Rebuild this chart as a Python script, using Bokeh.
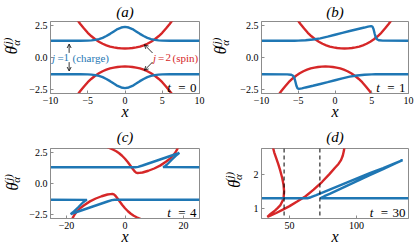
import math
from bokeh.plotting import figure
from bokeh.layouts import row, column
from bokeh.models import Label, Arrow, OpenHead, Span, FixedTicker, Range1d
from bokeh.core.properties import value
from bokeh.embed import file_html
from bokeh.resources import INLINE

BLUE = "#1f77b4"
RED = "#d62728"
SERIF = "Liberation Serif"

# ---------------- data ----------------
# panel (a), t = 0
a_blue_top_x = [-10, -6, -5, -4.5, -4, -3.5, -3, -2.5, -2, -1.5, -1, -0.5, 0, 0.5, 1, 1.5, 2, 2.5, 3, 3.5, 4, 4.5, 5, 6, 10]
a_blue_top_y = [1.3, 1.3, 1.31, 1.33, 1.37, 1.43, 1.53, 1.67, 1.84, 2.03, 2.21, 2.33, 2.38, 2.33, 2.21, 2.03, 1.84, 1.67, 1.53, 1.43, 1.37, 1.33, 1.31, 1.3, 1.3]
a_blue_bot_x = [-10, -6, -5, -4.5, -4, -3.5, -3, -2.5, -2, -1.5, -1, -0.5, 0, 0.5, 1, 1.5, 2, 2.5, 3, 3.5, 4, 4.5, 5, 6, 10]
a_blue_bot_y = [-1.3, -1.3, -1.31, -1.33, -1.37, -1.43, -1.53, -1.67, -1.84, -2.03, -2.21, -2.33, -2.38, -2.33, -2.21, -2.03, -1.84, -1.67, -1.53, -1.43, -1.37, -1.33, -1.31, -1.3, -1.3]
a_red_top_x = [-7, -6.5, -6, -5.5, -5, -4.5, -4, -3.5, -3, -2.5, -2, -1.5, -1, -0.5, 0, 0.5, 1, 1.5, 2, 2.5, 3, 3.5, 4, 4.5, 5, 5.5, 6, 6.5, 7]
a_red_top_y = [3.4, 3.0, 2.6, 2.25, 1.92, 1.65, 1.42, 1.23, 1.07, 0.95, 0.85, 0.79, 0.74, 0.71, 0.7, 0.71, 0.74, 0.79, 0.85, 0.95, 1.07, 1.23, 1.42, 1.65, 1.92, 2.25, 2.6, 3.0, 3.4]
a_red_bot_x = [-7, -6.5, -6, -5.5, -5, -4.5, -4, -3.5, -3, -2.5, -2, -1.5, -1, -0.5, 0, 0.5, 1, 1.5, 2, 2.5, 3, 3.5, 4, 4.5, 5, 5.5, 6, 6.5, 7]
a_red_bot_y = [-3.4, -3.0, -2.6, -2.25, -1.92, -1.65, -1.42, -1.23, -1.07, -0.95, -0.85, -0.79, -0.74, -0.71, -0.7, -0.71, -0.74, -0.79, -0.85, -0.95, -1.07, -1.23, -1.42, -1.65, -1.92, -2.25, -2.6, -3.0, -3.4]

# panel (b), t = 1
b_blue_top_x = [-10, -5.5, -5, -4, -3, -2, -1, 0, 1, 2, 3, 4, 4.5, 4.9, 5.1, 5.25, 5.4, 5.55, 5.75, 6.0, 6.5, 10]
b_blue_top_y = [1.3, 1.3, 1.31, 1.34, 1.4, 1.49, 1.62, 1.77, 1.92, 2.06, 2.2, 2.33, 2.4, 2.44, 2.4, 2.2, 1.85, 1.55, 1.4, 1.34, 1.31, 1.3]
b_blue_bot_x = [-10, -6.5, -6.0, -5.75, -5.55, -5.4, -5.25, -5.1, -4.9, -4.5, -4, -3, -2, -1, 0, 1, 2, 3, 4, 5, 5.5, 10]
b_blue_bot_y = [-1.3, -1.31, -1.34, -1.4, -1.55, -1.85, -2.2, -2.4, -2.44, -2.4, -2.33, -2.2, -2.06, -1.92, -1.77, -1.62, -1.49, -1.4, -1.34, -1.31, -1.3, -1.3]
b_red_top_x = [-5.7, -5.2, -4.7, -4.2, -3.7, -3.2, -2.7, -2.2, -1.7, -1.2, -0.7, -0.2, 0.3, 0.8, 1.3, 1.8, 2.3, 2.8, 3.3, 3.8, 4.3, 4.8, 5.3, 5.8, 6.3, 6.8, 7.3, 7.8, 8.3]
b_red_top_y = [3.4, 3.0, 2.6, 2.25, 1.92, 1.65, 1.42, 1.23, 1.07, 0.95, 0.85, 0.79, 0.74, 0.71, 0.7, 0.71, 0.74, 0.79, 0.85, 0.95, 1.07, 1.23, 1.42, 1.65, 1.92, 2.25, 2.6, 3.0, 3.4]
b_red_bot_x = [-8.3, -7.8, -7.3, -6.8, -6.3, -5.8, -5.3, -4.8, -4.3, -3.8, -3.3, -2.8, -2.3, -1.8, -1.3, -0.8, -0.3, 0.2, 0.7, 1.2, 1.7, 2.2, 2.7, 3.2, 3.7, 4.2, 4.7, 5.2, 5.7]
b_red_bot_y = [-3.4, -3.0, -2.6, -2.25, -1.92, -1.65, -1.42, -1.23, -1.07, -0.95, -0.85, -0.79, -0.74, -0.71, -0.7, -0.71, -0.74, -0.79, -0.85, -0.95, -1.07, -1.23, -1.42, -1.65, -1.92, -2.25, -2.6, -3.0, -3.4]

# panel (c), t = 4
c_blue_top_x = [-25.5, 3.5, 4.5, 6, 8, 10, 12, 14, 16, 17.5, 18.3, 18.6, 18.4, 17.8, 17.0, 16.0, 15.0, 14.3, 13.8, 13.4, 13.0, 25.5]
c_blue_top_y = [1.3, 1.3, 1.33, 1.44, 1.6, 1.76, 1.92, 2.08, 2.24, 2.36, 2.43, 2.46, 2.42, 2.3, 2.12, 1.9, 1.66, 1.5, 1.4, 1.34, 1.31, 1.3]
c_blue_bot_x = [-25.5, -13.0, -13.4, -13.8, -14.3, -15.0, -16.0, -17.0, -17.8, -18.4, -18.6, -18.3, -17.5, -16, -14, -12, -10, -8, -6, -4.5, -3.5, 25.5]
c_blue_bot_y = [-1.3, -1.31, -1.34, -1.4, -1.5, -1.66, -1.9, -2.12, -2.3, -2.42, -2.46, -2.43, -2.36, -2.24, -2.08, -1.92, -1.76, -1.6, -1.44, -1.33, -1.3, -1.3]
c_red_top_x = [-6, -5, -4, -3, -2, -1, 0, 1, 2, 2.8, 3.4, 3.8, 4.3, 5, 6, 8, 10, 12, 14, 15.5, 16.5, 17.3, 17.9, 18.2]
c_red_top_y = [2.9, 2.8, 2.7, 2.58, 2.42, 2.22, 1.98, 1.7, 1.38, 1.12, 0.95, 0.87, 0.84, 0.85, 0.88, 1.02, 1.2, 1.43, 1.74, 2.0, 2.25, 2.5, 2.75, 2.95]
c_red_bot_x = [-18.2, -17.9, -17.3, -16.5, -15.5, -14, -12, -10, -8, -6, -5, -4.3, -3.8, -3.4, -2.8, -2, -1, 0, 1, 2, 3, 4, 5, 6]
c_red_bot_y = [-2.95, -2.75, -2.5, -2.25, -2.0, -1.74, -1.43, -1.2, -1.02, -0.88, -0.85, -0.84, -0.87, -0.95, -1.12, -1.38, -1.7, -1.98, -2.22, -2.42, -2.58, -2.7, -2.8, -2.9]

# panel (d), t = 30
d_blue_x = [29, 63.4, 66, 70, 80, 90, 100, 110, 120, 130, 134.6, 130, 120, 110, 100, 90, 80, 76, 74, 73, 139]
d_blue_y = [1.31, 1.31, 1.34, 1.4, 1.56, 1.72, 1.88, 2.04, 2.19, 2.35, 2.42, 2.34, 2.16, 1.98, 1.8, 1.62, 1.44, 1.37, 1.33, 1.31, 1.31]
d_red_x = [37.2, 38.5, 40, 41.5, 43, 44.5, 45.5, 45.9, 45.6, 44.7, 43, 41, 39, 36, 33.4, 36, 40, 45, 50, 56, 62, 68, 74.4, 80, 84, 86.6, 88.5, 89.8, 90.7, 91.2]
d_red_y = [2.85, 2.65, 2.48, 2.31, 2.12, 1.9, 1.7, 1.51, 1.35, 1.23, 1.1, 1.02, 0.95, 0.86, 0.77, 0.81, 0.88, 0.98, 1.08, 1.22, 1.37, 1.56, 1.79, 2.02, 2.2, 2.31, 2.42, 2.55, 2.7, 2.85]
d_vlines = [45.9, 72.7]

# ticks
ab_xticks = [-10, -5, 0, 5, 10]
c_xticks = [-20, 0, 20]
d_xticks = [50, 100]
abc_yticks = [-2.5, 0.0, 2.5]
d_yticks = [1, 2]

# annotation anchors (panel a)
charge_arrows = [(-7.5, 0.36, -7.5, 1.05), (-7.5, -0.36, -7.5, -1.05)]
spin_arrows = [(3.7, 0.35, 2.6, 1.0), (3.7, -0.35, 2.6, -1.0)]


def minus(s):
    return s.replace("-", "\u2212")


def fint(v):
    return minus("%d" % v)


def f1(v):
    return minus("%.1f" % v)


def lab(p, x, y, text, dx=0, dy=0, size=11, color="black", style="normal",
        align="left", baseline="middle"):
    p.add_layout(Label(x=x, y=y, x_offset=dx, y_offset=dy, text=text,
                       text_font=SERIF, text_font_size=f"{size}px",
                       text_color=color, text_font_style=style,
                       text_align=align, text_baseline=baseline))


def make_fig(title, xr, yr, w, h, bl, br, bt, bb, t_standoff, xt, yt, xfmt, yfmt):
    p = figure(width=w, height=h, x_range=Range1d(*xr), y_range=Range1d(*yr),
               output_backend="svg", toolbar_location=None,
               min_border_left=bl, min_border_right=br,
               min_border_top=bt, min_border_bottom=bb)
    p.grid.visible = False
    p.outline_line_color = "#8c8c8c"
    p.outline_line_width = 1
    p.background_fill_color = "white"
    p.border_fill_color = "white"
    p.title.text = title
    p.title.align = "center"
    p.title.text_font = SERIF
    p.title.text_font_size = "15px"
    p.title.text_font_style = "italic"
    p.title.text_color = "black"
    p.title.standoff = t_standoff
    for ax, ticks, f in ((p.xaxis[0], xt, xfmt), (p.yaxis[0], yt, yfmt)):
        ax.ticker = FixedTicker(ticks=ticks)
        ax.major_label_overrides = {t: f(t) for t in ticks}
        ax.axis_line_color = "#8c8c8c"
        ax.major_tick_line_color = "#8c8c8c"
        ax.major_tick_in = 3
        ax.major_tick_out = 0
        ax.minor_tick_line_color = None
        ax.major_label_standoff = 3
        ax.major_label_text_font = SERIF
        ax.major_label_text_font_size = "10px"
        ax.major_label_text_color = "black"
    xa = p.xaxis[0]
    xa.axis_label = "x"
    xa.axis_label_text_font = SERIF
    xa.axis_label_text_font_size = "16px"
    xa.axis_label_text_font_style = "italic"
    xa.axis_label_text_color = "black"
    xa.axis_label_standoff = -4
    return p


def tlabel(p, xr, yr, tval):
    nw = 6.5 * len(tval)
    lab(p, xr[1], yr[0], tval, dx=-3, dy=6, size=13, align="right", baseline="alphabetic")
    lab(p, xr[1], yr[0], "=", dx=-3 - nw - 8, dy=6, size=13, align="center", baseline="alphabetic")
    lab(p, xr[1], yr[0], "t", dx=-3 - nw - 21, dy=6, size=13, style="italic", align="center", baseline="alphabetic")


def theta_fig(w, h, th, sub, sup):
    """narrow strip that carries the rotated y label theta_alpha^(j) (pixel coords)"""
    p = figure(width=w, height=h, x_range=Range1d(0, w), y_range=Range1d(0, h),
               output_backend="svg", toolbar_location=None,
               x_axis_location=None, y_axis_location=None, min_border=0)
    p.grid.visible = False
    p.xgrid.grid_line_color = None
    p.ygrid.grid_line_color = None
    p.outline_line_color = None
    p.background_fill_color = "white"
    p.border_fill_color = "white"
    ang = math.pi / 2
    p.text(x=[th[0]], y=[th[1]], text=["\u03b8"], angle=ang, text_font=value(SERIF),
           text_font_size="16px", text_font_style="italic", text_align="center",
           text_baseline="middle", text_color="black")
    p.text(x=[sub[0]], y=[sub[1]], text=["\u03b1"], angle=ang, text_font=value(SERIF),
           text_font_size="11px", text_font_style="italic", text_align="center",
           text_baseline="middle", text_color="black")
    p.text(x=[sup[0]], y=[sup[1]], text=["(j)"], angle=ang, text_font=value(SERIF),
           text_font_size="11px", text_font_style="italic", text_align="center",
           text_baseline="middle", text_color="black")
    return p


LW = 2.4
H1, H2 = 122, 125

# ---- panel (a)
xa, ya = (-10, 10), (-2.8, 2.8)
pa = make_fig("(a)", xa, ya, 183, H1, 26, 8, 5, 29, 3, ab_xticks, abc_yticks, fint, f1)
pa.line(a_red_top_x, a_red_top_y, color=RED, line_width=LW)
pa.line(a_red_bot_x, a_red_bot_y, color=RED, line_width=LW)
pa.line(a_blue_top_x, a_blue_top_y, color=BLUE, line_width=LW)
pa.line(a_blue_bot_x, a_blue_bot_y, color=BLUE, line_width=LW)
for (x0, y0, x1, y1) in charge_arrows + spin_arrows:
    pa.add_layout(Arrow(end=OpenHead(size=4, line_width=0.8, line_color="black"),
                        x_start=x0, y_start=y0, x_end=x1, y_end=y1,
                        line_width=0.8, line_color="black"))
lab(pa, xa[0], 0, "j", dx=1.5, size=11, color=BLUE, style="italic")
lab(pa, xa[0], 0, "=", dx=7, size=11, color=BLUE)
lab(pa, xa[0], 0, "1", dx=13, size=11, color=BLUE)
lab(pa, xa[0], 0, "(charge)", dx=22, size=11, color=BLUE)
lab(pa, 0, 0, "j", dx=28, size=11, color=RED, style="italic")
lab(pa, 0, 0, "=", dx=33, size=11, color=RED)
lab(pa, 0, 0, "2", dx=40.5, size=11, color=RED)
lab(pa, 0, 0, "(spin)", dx=47.5, size=11, color=RED)
tlabel(pa, xa, ya, "0")
ta = theta_fig(24, H1, (11, 73), (15, 86), (6, 86))

# ---- panel (b)
xb, yb = (-10, 10), (-2.8, 2.8)
pb = make_fig("(b)", xb, yb, 177, H1, 24, 6, 5, 29, 3, ab_xticks, abc_yticks, fint, f1)
pb.line(b_red_top_x, b_red_top_y, color=RED, line_width=LW)
pb.line(b_red_bot_x, b_red_bot_y, color=RED, line_width=LW)
pb.line(b_blue_top_x, b_blue_top_y, color=BLUE, line_width=LW)
pb.line(b_blue_bot_x, b_blue_bot_y, color=BLUE, line_width=LW)
tlabel(pb, xb, yb, "1")
tb = theta_fig(30, H1, (13, 73), (17, 86), (8, 86))

# ---- panel (c)
xc_, yc_ = (-25.5, 25.5), (-2.8, 2.8)
pc = make_fig("(c)", xc_, yc_, 183, H2, 26, 8, 26, 27, 8, c_xticks, abc_yticks, fint, f1)
pc.line(c_red_top_x, c_red_top_y, color=RED, line_width=LW)
pc.line(c_red_bot_x, c_red_bot_y, color=RED, line_width=LW)
pc.line(c_blue_top_x, c_blue_top_y, color=BLUE, line_width=LW)
pc.line(c_blue_bot_x, c_blue_bot_y, color=BLUE, line_width=LW)
tlabel(pc, xc_, yc_, "4")
tc = theta_fig(24, H2, (11.5, 57), (15.5, 69), (7, 70))

# ---- panel (d)
xd, yd = (29, 139), (0.72, 2.76)
pd_ = make_fig("(d)", xd, yd, 170, H2, 17, 6, 26, 27, 8, d_xticks, d_yticks, fint, fint)
pd_.line(d_red_x, d_red_y, color=RED, line_width=LW)
pd_.line(d_blue_x, d_blue_y, color=BLUE, line_width=LW)
for v in d_vlines:
    pd_.add_layout(Span(location=v, dimension="height", line_color="black",
                        line_width=1, line_dash="4 3"))
tlabel(pd_, xd, yd, "30")
td = theta_fig(37, H2, (26.5, 62), (30, 74), (21.5, 74))

layout = column(row(ta, pa, tb, pb), row(tc, pc, td, pd_))

open("out.html", "w").write(file_html(layout, INLINE))
